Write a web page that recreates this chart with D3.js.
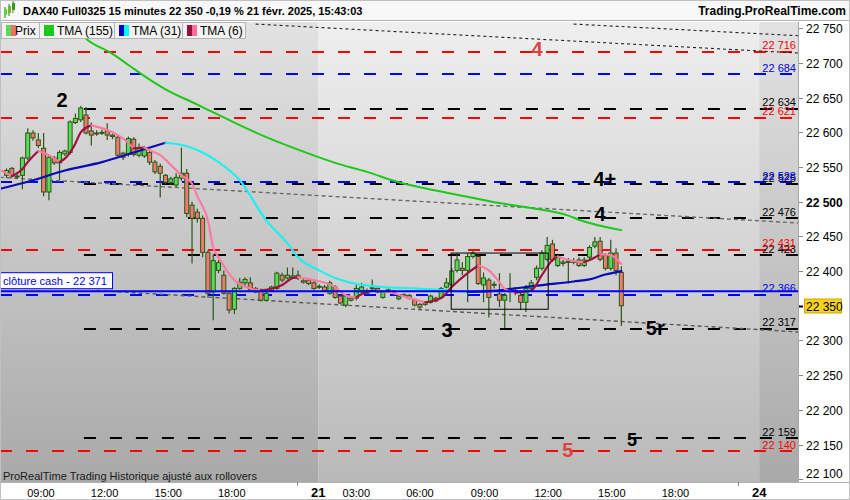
<!DOCTYPE html>
<html><head><meta charset="utf-8">
<script src="https://cdn.jsdelivr.net/npm/d3@7"></script>
<style>
body{margin:0;background:#fff;}
svg{display:block;font-family:Arial,"Liberation Sans",sans-serif;}
</style>
</head><body>
<svg id="c" width="850" height="500"></svg>
<script>
// ---------- DATA ----------
const opens = [22538,22548,22537,22538,22563,22599,22589,22577,22514,22563,
22556,22569,22571,22614,22618,22625,22602,22599,22599,22602,
22596,22593,22570,22568,22590,22567,22566,22571,22557,22551,
22538,22528,22524,22534,22541,22495,22485,22476,22427,22370,
22401,22394,22368,22345,22375,22383,22383,22370,22373,22358,
22372,22375,22394,22390,22391,22394,22386,22387,22383,22378,
22377,22368,22377,22364,22351,22361,22361,22370,22372,22375,
22375,22362,22372,22371,22360,22365,22365,22358,22352,22352,
22355,22361,22362,22377,22380,22401,22404,22401,22421,22421,
22380,22387,22381,22367,22358,22370,22372,22365,22355,22375,
22391,22404,22417,22439,22408,22413,22414,22413,22416,22408,
22420,22436,22443,22423,22404,22426,22398];
const highs = [22548,22550,22540,22565,22606,22603,22599,22599,22568,22566,
22574,22575,22617,22627,22638,22636,22614,22603,22604,22613,
22598,22596,22572,22594,22593,22584,22580,22574,22560,22555,
22540,22536,22541,22578,22547,22500,22490,22480,22430,22425,
22416,22401,22370,22377,22390,22391,22391,22377,22375,22370,
22379,22399,22398,22405,22405,22401,22389,22389,22386,22381,
22380,22386,22380,22366,22366,22363,22380,22383,22375,22388,
22378,22372,22375,22373,22365,22368,22367,22360,22354,22357,
22366,22363,22377,22390,22404,22426,22413,22426,22429,22424,
22398,22390,22385,22397,22368,22397,22377,22371,22380,22387,
22408,22430,22449,22445,22423,22416,22419,22419,22420,22420,
22437,22449,22449,22426,22445,22433,22407];
const lows = [22534,22534,22533,22518,22560,22588,22577,22508,22502,22553,
22531,22566,22568,22612,22615,22597,22581,22595,22596,22589,
22590,22565,22560,22565,22565,22564,22563,22553,22540,22506,
22525,22524,22521,22530,22478,22411,22470,22420,22362,22329,
22397,22366,22339,22338,22373,22377,22371,22368,22356,22356,
22370,22373,22384,22388,22389,22387,22382,22380,22373,22374,
22370,22366,22360,22352,22348,22356,22358,22368,22366,22372,
22368,22360,22370,22368,22358,22363,22359,22349,22345,22350,
22353,22355,22360,22375,22377,22398,22394,22355,22418,22380,
22355,22333,22375,22348,22318,22355,22365,22344,22341,22372,
22387,22401,22414,22413,22406,22407,22382,22410,22406,22406,
22417,22433,22414,22401,22401,22394,22321];
const closes = [22545,22537,22536,22563,22599,22592,22581,22514,22564,22556,
22571,22573,22615,22620,22635,22599,22596,22599,22600,22596,
22594,22567,22564,22591,22568,22577,22576,22557,22543,22541,
22528,22533,22535,22541,22483,22476,22476,22427,22368,22415,
22412,22368,22344,22375,22384,22388,22373,22375,22358,22368,
22377,22397,22387,22394,22393,22390,22384,22382,22375,22377,
22372,22383,22362,22354,22364,22358,22375,22377,22368,22376,
22370,22370,22373,22370,22363,22366,22361,22351,22348,22355,
22364,22357,22375,22383,22400,22416,22401,22421,22426,22382,
22390,22362,22380,22358,22365,22375,22370,22355,22375,22383,
22404,22426,22437,22416,22420,22411,22413,22414,22408,22416,
22434,22442,22417,22404,22426,22401,22350];

// moving averages: [bar index, value]
const tma155 = [[13,22750],[15,22735],[20,22713],[23,22697],[27,22676],[30,22662],[36,22640],[43,22614],[49,22593],[55,22575],[62,22556],[68,22543],[74,22528],[81,22516],[87,22507],[93,22498],[99,22491],[106,22480],[108,22474],[116,22459]];
const tma31 = [[-1,22519],[5,22531],[11,22545],[18,22557],[24,22571],[30,22585],[34,22580],[37,22571],[40,22557],[44,22531],[49,22473],[53,22440],[55,22420],[59,22401],[62,22390],[65,22383],[71,22377],[77,22375],[84,22372],[87,22370],[91,22371],[97,22376],[100,22379],[107,22385],[110,22388],[113,22395],[116,22400]];
const tma6 = [[-1,22545],[1,22537],[3,22547],[4,22557],[6,22573],[8,22567],[10,22557],[11,22562],[13,22584],[14,22600],[16,22610],[18,22606],[20,22600],[22,22591],[24,22577],[26,22578],[27,22574],[29,22567],[31,22553],[33,22538],[35,22526],[36,22508],[38,22473],[39,22434],[40,22420],[43,22387],[46,22375],[48,22372],[52,22380],[54,22390],[55,22391],[58,22387],[62,22377],[64,22365],[66,22362],[68,22370],[70,22372],[73,22368],[76,22361],[79,22355],[82,22361],[84,22377],[87,22397],[89,22408],[91,22401],[93,22384],[94,22374],[96,22369],[99,22372],[101,22394],[103,22416],[104,22421],[106,22416],[109,22413],[110,22416],[112,22424],[114,22423],[116,22410]];

// horizontal levels
const redLevels = [22716, 22621, 22431, 22140];
const blueLevels = [22684, 22528, 22366];
const blackLevels = [22634, 22525, 22476, 22423, 22317, 22159];
const cashClose = 22371;
const lastPrice = 22350;
const blackStartBar = 14.6;

// trend lines: [bar, value] -> [bar, value]
const trendFrom = [[47,22756],[107,22756],[-1.2,22535],[17,22372]];
const trendTo   = [[150,22714],[150,22739],[150,22469],[150,22312]];

// box
const boxBars = [83.9, 102.2];
const boxValues = [22345, 22426];

// annotations
const annotText = ["2","4","4+","4","3","5r","5","5"];
const annotBar  = [10.5,100.1,112.9,112,83.1,122.4,105.9,118];
const annotVal  = [22636,22710,22522,22472,22305,22308,22132,22148];
const annotRed  = [false,true,false,false,false,false,true,false];

// time axis
const timeLabels = ["09:00","12:00","15:00","18:00","21","03:00","06:00","09:00","12:00","15:00","18:00","24"];
const timeBars   = [6.5,18.5,30.5,42.5,58.8,66,78,90.2,102.2,114.2,126.2,142];
const minorTickBars = [54.9, 138.1];
const dayBounds = [58.8, 142];

const yTicks = d3.range(22100, 22751, 50);

// ---------- LAYOUT ----------
const W = 850, H = 500;
const PL = 0, PR = 798, PT = 22, PB = 482;
const svg = d3.select("#c");
const x = d3.scaleLinear().domain([-1.23, 149.33]).range([PL, PR]);
const y = d3.scaleLinear().domain([22096, 22759]).range([PB, PT]);
const fmt = v => String(v).replace(/\B(?=(\d{3})+$)/g, " ");

const defs = svg.append("defs");
defs.append("clipPath").attr("id","clip").append("rect")
  .attr("x",PL).attr("y",PT).attr("width",PR-PL).attr("height",PB-PT);
const g1 = defs.append("linearGradient").attr("id","gl").attr("x1",0).attr("y1",0).attr("x2",0).attr("y2",1);
g1.append("stop").attr("offset","0%").attr("stop-color","#efefef");
g1.append("stop").attr("offset","100%").attr("stop-color","#b9b9b9");
const g2 = defs.append("linearGradient").attr("id","gd").attr("x1",0).attr("y1",0).attr("x2",0).attr("y2",1);
g2.append("stop").attr("offset","0%").attr("stop-color","#e2e2e2");
g2.append("stop").attr("offset","100%").attr("stop-color","#a9a9a9");

// backgrounds
svg.append("rect").attr("width",W).attr("height",H).attr("fill","#fff");
const plot = svg.append("g").attr("clip-path","url(#clip)");
plot.append("rect").attr("x",PL).attr("y",PT).attr("width",x(dayBounds[0])-PL).attr("height",PB-PT).attr("fill","url(#gd)");
plot.append("rect").attr("x",x(dayBounds[0])).attr("y",PT).attr("width",x(dayBounds[1])-x(dayBounds[0])).attr("height",PB-PT).attr("fill","url(#gl)");
plot.append("rect").attr("x",x(dayBounds[1])).attr("y",PT).attr("width",PR-x(dayBounds[1])).attr("height",PB-PT).attr("fill","url(#gd)");

// level lines
function levels(vals, color, startBar){
  plot.selectAll(null).data(vals).enter().append("line")
    .attr("x1", x(startBar)).attr("x2", PR)
    .attr("y1", d=>Math.round(y(d))).attr("y2", d=>Math.round(y(d)))
    .attr("stroke", color).attr("stroke-width", 2)
    .attr("stroke-dasharray","12,14");
}
levels(redLevels, "#ff0000", -1.23);
levels(blueLevels, "#0000ff", -1.23);
levels(blackLevels, "#000000", blackStartBar);

// trend lines
const trendColor = ["#222","#222","#6a6a6a","#5a5a5a"];
const trendW = [1.1,1.1,1.4,1.4];
const trendDash = ["3,3","3,3","4,3","4,3"];
trendFrom.forEach((f,k)=>{
  plot.append("line").attr("x1",x(f[0])).attr("y1",y(f[1]))
    .attr("x2",x(trendTo[k][0])).attr("y2",y(trendTo[k][1]))
    .attr("stroke",trendColor[k]).attr("stroke-width",trendW[k]).attr("stroke-dasharray",trendDash[k]);
});

// candles
const wickC = "#2b5516";
const cg = plot.append("g");
const idx = d3.range(opens.length);
cg.selectAll("line.w").data(idx).enter().append("line")
  .attr("x1",i=>x(i)).attr("x2",i=>x(i))
  .attr("y1",i=>y(highs[i])).attr("y2",i=>y(lows[i]))
  .attr("stroke",wickC).attr("stroke-width",1.2);
cg.selectAll("rect.b").data(idx).enter().append("rect")
  .attr("x",i=>x(i)-2).attr("width",4)
  .attr("y",i=>y(Math.max(opens[i],closes[i])))
  .attr("height",i=>Math.max(1,Math.abs(y(opens[i])-y(closes[i]))))
  .attr("fill",i=>closes[i]>=opens[i]?"#58dc58":"#f07a6c")
  .attr("stroke",wickC).attr("stroke-width",1);

// moving averages
function splitLine(pts, upC, downC, w){
  const runs=[]; let cur=[pts[0]]; let dir=null;
  for(let k=1;k<pts.length;k++){
    let d = pts[k][1]>pts[k-1][1]?"up":(pts[k][1]<pts[k-1][1]?"down":dir||"up");
    if(dir===null) dir=d;
    if(d!==dir){ runs.push({dir,pts:cur}); cur=[pts[k-1]]; dir=d; }
    cur.push(pts[k]);
  }
  runs.push({dir,pts:cur});
  const ln = d3.line().x(p=>x(p[0])).y(p=>y(p[1])).curve(d3.curveMonotoneX);
  runs.forEach(r=>{
    plot.append("path").attr("d",ln(r.pts)).attr("fill","none")
      .attr("stroke", r.dir==="up"?upC:downC).attr("stroke-width",w)
      .attr("stroke-linejoin","round").attr("stroke-linecap","round");
  });
}
splitLine(tma155, "#1cc81c", "#1cc81c", 2);
splitLine(tma31, "#0a0ab8", "#22eeee", 2.2);
splitLine(tma6, "#a0103e", "#ff7aa2", 2.2);

// cash close solid line
plot.append("line").attr("x1",PL).attr("x2",PR).attr("y1",y(cashClose)).attr("y2",y(cashClose))
  .attr("stroke","#0000ff").attr("stroke-width",2);

// box
plot.append("rect").attr("x",x(boxBars[0])).attr("y",y(boxValues[1]))
  .attr("width",x(boxBars[1])-x(boxBars[0])).attr("height",y(boxValues[0])-y(boxValues[1]))
  .attr("fill","none").attr("stroke","#000").attr("stroke-width",1);

// annotations
annotText.forEach((t,k)=>{
  plot.append("text").attr("x",x(annotBar[k])).attr("y",y(annotVal[k]))
    .attr("text-anchor","middle").attr("font-size", k===7?18:20).attr("font-weight","bold")
    .attr("fill", annotRed[k]?"#e04040":"#000").text(t);
});

// right price labels inside plot
function priceLabels(vals,color){
  plot.selectAll(null).data(vals).enter().append("text")
    .attr("x",796).attr("y",d=>y(d)-2.5).attr("text-anchor","end")
    .attr("font-size",11).attr("fill",color).text(d=>fmt(d));
}
priceLabels(blackLevels,"#000");
priceLabels(blueLevels,"#0000ff");
priceLabels(redLevels,"#ff0000");

// cash close label
const cy = y(cashClose);
plot.append("rect").attr("x",0.5).attr("y",cy-18.5).attr("width",112).attr("height",16)
  .attr("fill","#fff").attr("stroke","#0000ff").attr("stroke-width",1);
plot.append("text").attr("x",3).attr("y",cy-6.5).attr("font-size",11).attr("fill","#0000ff")
  .attr("textLength",104).attr("lengthAdjust","spacingAndGlyphs")
  .text("clôture cash -  " + fmt(cashClose));

// bottom text
plot.append("text").attr("x",3).attr("y",PB-2).attr("font-size",11).attr("fill","#1a1a1a")
  .text("ProRealTime Trading  Historique ajusté aux rollovers");

// ---------- AXES ----------
svg.append("line").attr("x1",PR+0.5).attr("x2",PR+0.5).attr("y1",PT).attr("y2",PB)
  .attr("stroke","#a8a8a8");
svg.append("line").attr("x1",0).attr("x2",W).attr("y1",PB+0.5).attr("y2",PB+0.5).attr("stroke","#b0b0b0");

const ya = svg.append("g");
yTicks.forEach(v=>{
  const yy = Math.round(y(v))+0.5;
  if(v===lastPrice){
    ya.append("rect").attr("x",804.5).attr("y",yy-7.5).attr("width",37).attr("height",14)
      .attr("fill","#f8d21c").attr("stroke","#c9a800");
  }
  ya.append("line").attr("x1",PR+1).attr("x2",PR+5).attr("y1",yy).attr("y2",yy)
    .attr("stroke", v===lastPrice?"#000":"#888").attr("stroke-width", v===lastPrice?2:1);
  ya.append("text").attr("x",806).attr("y",Math.min(yy, 474)).attr("dy","0.35em")
    .attr("font-size",12).attr("font-weight", v===22500?"bold":"normal").attr("fill","#000")
    .text(fmt(v));
});

const xa = svg.append("g");
timeLabels.forEach((t,k)=>{
  const bold = t.length===2;
  xa.append("text").attr("x",x(timeBars[k])).attr("y",497).attr("text-anchor","middle")
    .attr("font-size", bold?13:11).attr("font-weight", bold?"bold":"normal").attr("fill","#000").text(t);
});
minorTickBars.forEach(b=>{
  xa.append("line").attr("x1",x(b)).attr("x2",x(b)).attr("y1",PB).attr("y2",PB+4).attr("stroke","#888");
});

// ---------- TITLE & LEGEND ----------
svg.append("rect").attr("x",0).attr("y",0).attr("width",W).attr("height",PT-1).attr("fill","#f8f8f8");
svg.append("line").attr("x1",0).attr("x2",W).attr("y1",PT-1.5).attr("y2",PT-1.5).attr("stroke","#b4b4b4");
// icon
const icon = svg.append("g");
[[4,9,15,"#5fcf3a"],[8,6,13,"#6ab82e"],[12,3,10,"#3a9a1c"]].forEach(c=>{
  icon.append("line").attr("x1",c[0]+1).attr("x2",c[0]+1).attr("y1",c[1]-2).attr("y2",c[2]+3).attr("stroke","#3a7a18");
  icon.append("rect").attr("x",c[0]).attr("y",c[1]).attr("width",3).attr("height",c[2]-c[1]).attr("fill",c[3]);
});
svg.append("text").attr("x",23).attr("y",15).attr("font-size",11).attr("font-weight","bold")
  .text("DAX40 Full0325 15 minutes 22 350 -0,19 % 21 févr. 2025, 15:43:03");
svg.append("text").attr("x",846).attr("y",15).attr("font-size",12).attr("font-weight","bold")
  .attr("text-anchor","end").text("Trading.ProRealTime.com");

const legendItems = [
  {label:"Prix", x:1, w:38, c:["#58dc58","#f07070"]},
  {label:"TMA (155)", x:39, w:75, c:["#1cc81c","#1cc81c"]},
  {label:"TMA (31)", x:114, w:68, c:["#0000c8","#00ffff"]},
  {label:"TMA (6)", x:182, w:63, c:["#990f3c","#ff6e9e"]}
];
legendItems.forEach(it=>{
  svg.append("rect").attr("x",it.x+0.5).attr("y",PT+0.5).attr("width",it.w).attr("height",16)
    .attr("fill","#f3f3f3").attr("stroke","#b4b4b4");
  svg.append("rect").attr("x",it.x+5).attr("y",PT+3).attr("width",5).attr("height",11).attr("fill",it.c[0]);
  svg.append("rect").attr("x",it.x+10).attr("y",PT+3).attr("width",5).attr("height",11).attr("fill",it.c[1]);
  svg.append("text").attr("x",it.label==="Prix"?it.x+14:it.x+18).attr("y",PT+13).attr("font-size",12)
    .attr("fill","#000").text(it.label);
});
// outer border
svg.append("rect").attr("x",0.5).attr("y",0.5).attr("width",W-1).attr("height",H-1)
  .attr("fill","none").attr("stroke","#c0c0c0");
</script>
</body></html>
